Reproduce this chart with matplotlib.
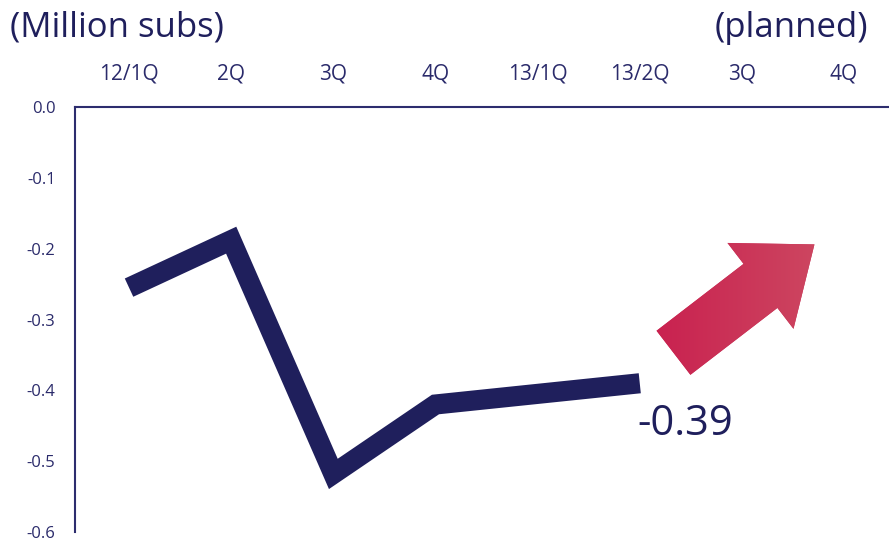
import matplotlib
matplotlib.use("Agg")
import matplotlib.pyplot as plt
import numpy as np
from matplotlib.colors import LinearSegmentedColormap

# data
quarters = ["12/1Q", "2Q", "3Q", "4Q", "13/1Q", "13/2Q", "3Q", "4Q"]
net_adds = [-0.255, -0.188, -0.518, -0.42, -0.405, -0.39]
yticks = [0.0, -0.1, -0.2, -0.3, -0.4, -0.5, -0.6]
last_label = "-0.39"

navy = "#1f1f5c"
text_col = "#2b2b6b"

plt.rcParams["font.family"] = ["Open Sans", "DejaVu Sans"]

fig = plt.figure(figsize=(8.89, 5.42), dpi=100)
ax = fig.add_axes([75 / 889, 1 - 532 / 542, 1 - 75 / 889, (532 - 107) / 542])

x = list(range(len(net_adds)))
ax.plot(x, net_adds, color=navy, lw=14.5, solid_capstyle="butt", solid_joinstyle="miter")

ax.set_xlim(-0.529, 7.44)
ax.set_ylim(-0.6, 0.0)

ax.xaxis.tick_top()
ax.set_xticks(range(len(quarters)))
ax.set_xticklabels(quarters, fontsize=15, color=text_col)
ax.set_yticks(yticks)
ax.set_yticklabels([f"{v:.1f}" for v in yticks], fontsize=12, color=text_col)
ax.tick_params(axis="x", length=0, pad=16)
ax.tick_params(axis="y", length=0, pad=14)

for s in ["bottom", "right"]:
    ax.spines[s].set_visible(False)
for s in ["top", "left"]:
    ax.spines[s].set_color("#2d2d6e")
    ax.spines[s].set_linewidth(1.5)

# value label for the latest quarter
ax.annotate(last_label, xy=(x[-1], net_adds[-1]), xytext=(-2, -14),
            textcoords="offset points", ha="left", va="top",
            fontsize=30, color=navy)

# big "planned" arrow with a soft red gradient
arr = ax.annotate("", xy=(6.71, -0.194), xytext=(5.33, -0.347),
                  arrowprops=dict(arrowstyle="simple,head_length=0.49,head_width=0.78,tail_width=0.4",
                                  mutation_scale=100, fc="#c8345a", ec="none",
                                  shrinkA=0, shrinkB=0))
fig.canvas.draw()
cmap = LinearSegmentedColormap.from_list("arrow", ["#c9204f", "#cd4a62"])
grad = np.linspace(0, 1, 256).reshape(1, -1)
img = ax.imshow(grad, cmap=cmap, aspect="auto", extent=(5.1, 6.9, -0.38, -0.18),
                zorder=3, interpolation="bicubic")
img.set_clip_path(arr.arrow_patch)
ax.set_xlim(-0.529, 7.44)
ax.set_ylim(-0.6, 0.0)

fig.text(10 / 889, 1 - 28 / 542, "(Million subs)", fontsize=25, color=navy,
         ha="left", va="center")
fig.text(868 / 889, 1 - 28 / 542, "(planned)", fontsize=25, color=navy,
         ha="right", va="center")

fig.savefig("out.png", dpi=100)
